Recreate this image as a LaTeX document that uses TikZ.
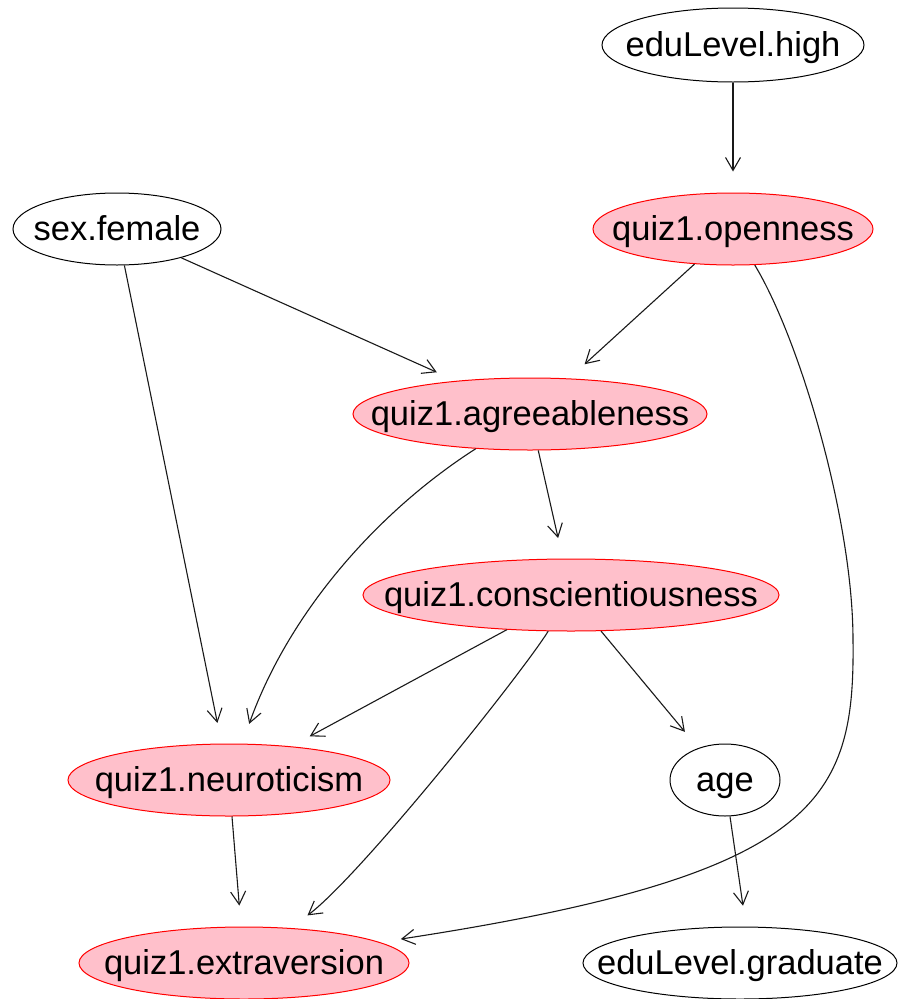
\documentclass[tikz,border=0pt]{standalone}
\usepackage{fontspec}
\setmainfont{Liberation Sans}
\usetikzlibrary{shapes.geometric,arrows.meta}
\definecolor{nodepink}{HTML}{FFC0CB}
\begin{document}
\begin{tikzpicture}[x=1pt,y=-1pt,
  wnode/.style={ellipse,draw=black,line width=1pt,fill=white,inner sep=0pt},
  pnode/.style={ellipse,draw=red,line width=1pt,fill=nodepink,inner sep=0pt},
  lbl/.style={inner sep=0pt,font=\fontsize{34.5}{40}\selectfont,text height=28pt,text depth=5pt},
  edge/.style={draw=black!90,line width=1.1pt,-{Straight Barb[length=13pt,width=15pt]},shorten >=21pt}]
\useasboundingbox (0,0) rectangle (906,999);
% nodes
\node[wnode,minimum width=262pt,minimum height=74pt] (high) at (733,45) {};
\node[pnode,minimum width=280pt,minimum height=72pt] (open) at (733,229) {};
\node[wnode,minimum width=208pt,minimum height=72pt] (sex) at (117,229) {};
\node[pnode,minimum width=354pt,minimum height=72pt] (agree) at (530,414) {};
\node[pnode,minimum width=416pt,minimum height=72pt] (consc) at (571,595) {};
\node[pnode,minimum width=322pt,minimum height=72pt] (neuro) at (229,780) {};
\node[wnode,minimum width=110pt,minimum height=72pt] (age) at (725,780) {};
\node[pnode,minimum width=330pt,minimum height=72pt] (extra) at (244,963) {};
\node[wnode,minimum width=314pt,minimum height=72pt] (grad) at (740,963) {};
% labels
\node[lbl] (high-t) at (high) {eduLevel.high};
\node[lbl] (open-t) at (open) {quiz1.openness};
\node[lbl] (sex-t) at (sex) {sex.female};
\node[lbl] (agree-t) at (agree) {quiz1.agreeableness};
\node[lbl] (consc-t) at (consc) {quiz1.conscientiousness};
\node[lbl] (neuro-t) at (neuro) {quiz1.neuroticism};
\node[lbl] (age-t) at (age) {age};
\node[lbl] (extra-t) at (extra) {quiz1.extraversion};
\node[lbl] (grad-t) at (grad) {eduLevel.graduate};
% edges
\draw[edge] (high) -- (open);
\draw[edge] (sex) -- (agree);
\draw[edge] (open) -- (agree);
\draw[edge] (sex) -- (neuro);
\draw[edge] (agree) .. controls (380,510) and (290,610) .. (neuro);
\draw[edge] (agree) -- (consc);
\draw[edge] (consc) -- (neuro);
\draw[edge] (consc) .. controls (520,676) and (360,876) .. (extra);
\draw[edge] (consc) -- (age);
\coordinate (bend) at (853,640);
\draw[edge] (open) .. controls (800,340) and (853,520) .. (bend) .. controls (855,800) and (820,875) .. (extra);
\draw[edge] (neuro) -- (extra);
\draw[edge] ([xshift=5pt]age.south) -- ([xshift=6pt]grad.north);
\end{tikzpicture}
\end{document}
